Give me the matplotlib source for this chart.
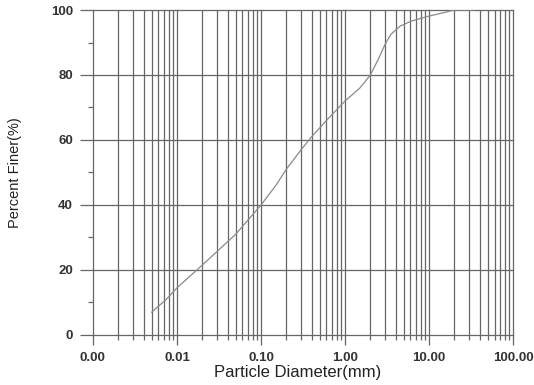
import matplotlib.pyplot as plt
from matplotlib.ticker import FixedLocator, LogLocator, NullFormatter

# grain size curve
diametro = [0.005, 0.0075, 0.01, 0.02, 0.05, 0.1, 0.15, 0.2, 0.3, 0.4, 0.6, 1.0,
            1.5, 2.0, 2.5, 3.0, 3.5, 4.5, 6.0, 9.5, 15.0, 20.0, 34.0]
passante = [7, 11, 14.5, 21.5, 31, 40, 46, 51, 57, 61, 66, 72,
            76, 80, 85, 89.5, 92.5, 95, 96.5, 98, 99.2, 100, 100]

xticks = [0.001, 0.01, 0.1, 1, 10, 100]
xlabels = ["0.00", "0.01", "0.10", "1.00", "10.00", "100.00"]
yticks = [0, 20, 40, 60, 80, 100]
yminor = [10, 30, 50, 70, 90]

cor_grade = "#666666"
cor_linha = "#8a8a8a"
fonte = "Liberation Sans"

fig = plt.figure(figsize=(5.34, 3.85), dpi=100)
ax = fig.add_axes([0.174, 0.130, 0.787, 0.844])

ax.plot(diametro, passante, color=cor_linha, lw=0.9)

ax.set_xscale("log")
ax.set_xlim(0.001, 100)
ax.set_ylim(0, 100)

ax.xaxis.set_major_locator(FixedLocator(xticks))
ax.set_xticklabels(xlabels, fontfamily=fonte, fontsize=9.5, fontweight="bold", color="#333333")
ax.xaxis.set_minor_locator(LogLocator(base=10, subs=range(2, 10), numticks=20))
ax.xaxis.set_minor_formatter(NullFormatter())

ax.set_yticks(yticks)
ax.set_yticklabels([str(v) for v in yticks], fontfamily=fonte, fontsize=9.5, fontweight="bold", color="#333333")
ax.yaxis.set_minor_locator(FixedLocator(yminor))

ax.grid(True, axis="x", which="both", color=cor_grade, lw=0.9)
ax.grid(True, axis="y", which="major", color=cor_grade, lw=0.9)
for linha in ax.get_xgridlines() + ax.get_ygridlines():
	linha.set_clip_on(False)

ax.tick_params(axis="x", which="major", direction="out", length=7.2, width=0.9, color=cor_grade, pad=5)
ax.tick_params(axis="x", which="minor", direction="out", length=3.6, width=0.9, color=cor_grade)
ax.tick_params(axis="y", which="major", direction="out", length=9.4, width=0.9, color=cor_grade, pad=5)
ax.tick_params(axis="y", which="minor", direction="out", length=3.6, width=0.9, color=cor_grade)

for lado in ["top", "right", "bottom", "left"]:
	ax.spines[lado].set_visible(False)

ax.set_xlabel("Particle Diameter(mm)", fontfamily=fonte, fontsize=12, color="#222222")
ax.set_ylabel("Percent Finer(%)", fontfamily=fonte, fontsize=10.5, color="#222222")
ax.xaxis.set_label_coords(0.487, -0.117)
ax.yaxis.set_label_coords(-0.186, 0.5)
ax.xaxis.label.set_va("center")
ax.yaxis.label.set_va("center")

fig.savefig("out.png", dpi=100)
